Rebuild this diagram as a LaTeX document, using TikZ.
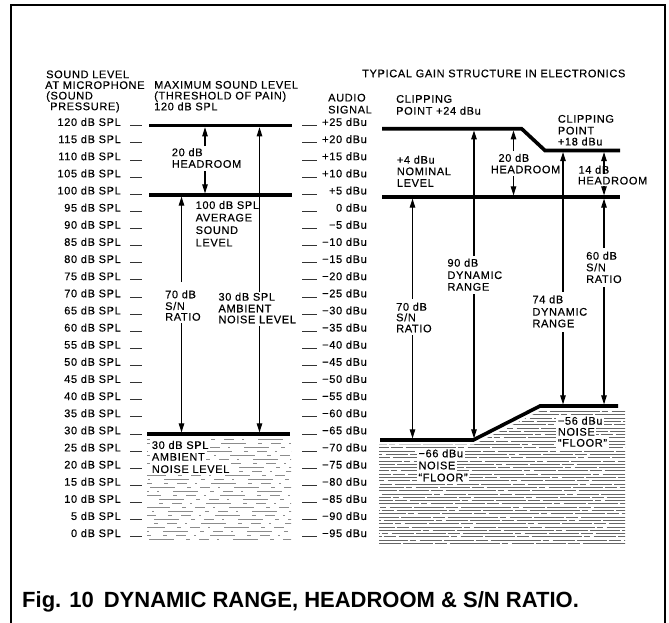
\documentclass[tikz,border=0pt]{standalone}
\usepackage{fontspec}
\setmainfont{Liberation Sans}[LetterSpace=6, FakeBold=0.4]
\newfontfamily\titlefont{Liberation Sans}
\usetikzlibrary{arrows.meta}
\newcommand\mylbl[5][]{\node[lab,#1] (#2) at (#3,#4) {#5};}
\tikzset{
  lab/.style={font=\fontsize{11}{12}\selectfont, inner sep=0pt, text height=7.9pt, text depth=0pt, anchor=west},
  wlab/.style={fill=white, inner xsep=1.5pt, inner ysep=1.6pt},
  thk/.style={line width=3.6pt},
  arr/.style={line width=1.1pt, shorten >=1.6pt, -{Triangle[length=9pt,width=5.5pt]}},
  tickmark/.style={line width=0.9pt, black!80},
  frame/.style={line width=1.3pt},
  hatchR/.style={line width=0.9pt, black!60, dash pattern=on 30pt off 1.5pt on 12pt off 3pt on 50pt off 2pt on 6pt off 4pt on 22pt off 2.5pt},
  hatchL/.style={line width=0.7pt, black!45, dash pattern=on 10pt off 8pt on 2pt off 14pt on 25pt off 12pt on 4pt off 9pt}
}
\begin{document}
\begin{tikzpicture}[x=1pt,y=-1pt]
\useasboundingbox (0,0) rectangle (669,623);
\draw[frame] (11,623) -- (11,5) -- (665,5) -- (665,623);

% scales
\foreach \i in {0,...,24}{
  \pgfmathsetmacro\yy{125.7+17.13*\i}
  \pgfmathtruncatemacro\splv{120-5*\i}
  \pgfmathtruncatemacro\dbv{25-5*\i}
  \node[lab, anchor=east] (spl\i) at (121,\yy-3.7) {\splv\ dB SPL};
  \draw[tickmark] (130,\yy) -- (142,\yy);
  \node[lab, anchor=east] (dbu\i) at (367,\yy-3.7) {\ifnum\dbv>0 +\dbv\else\ifnum\dbv<0 −\number\numexpr-\dbv\relax\else0\fi\fi\ dBu};
  \draw[tickmark] (302,\yy) -- (317,\yy);
}

% headers
\mylbl{hA1}{46}{74.2}{SOUND LEVEL}
\mylbl{hA2}{45}{85}{AT MICROPHONE}
\mylbl{hA3}{46}{95.5}{(SOUND}
\mylbl{hA4}{50}{106.2}{PRESSURE)}
\mylbl{hB1}{154}{84.7}{MAXIMUM SOUND LEVEL}
\mylbl{hB2}{154}{95.5}{(THRESHOLD OF PAIN)}
\mylbl{hB3}{154}{106.4}{120 dB SPL}
\mylbl{hC1}{328}{97.5}{AUDIO}
\mylbl{hC2}{328}{109.5}{SIGNAL}
\mylbl{hD}{362}{73.3}{TYPICAL GAIN STRUCTURE IN ELECTRONICS}

% ---------- left section ----------
\coordinate (m120w) at (149,125.7); \coordinate (m120e) at (292,125.7);
\coordinate (m100w) at (149,195);   \coordinate (m100e) at (292,195);
\coordinate (m30w) at (147,434);    \coordinate (m30e) at (290,434);

\begin{scope}
  \clip (147,438) rectangle (291,542);
  \foreach \k in {0,...,26}{
    \pgfmathsetmacro\ph{mod(\k*37,60)}
    \draw[hatchL, dash phase=\ph pt] (140,439+4*\k) -- (300,439+4*\k);
  }
\end{scope}

\draw[thk] (m120w) -- (m120e);
\draw[thk] (m100w) -- (m100e);
\draw[thk] (m30w) -- (m30e);

\mylbl{l20a}{171.7}{152.2}{20 dB}
\mylbl{l20b}{171.7}{163.8}{HEADROOM}
\mylbl{l100a}{195.5}{205}{100 dB SPL}
\mylbl{l100b}{195.5}{217.5}{AVERAGE}
\mylbl{l100c}{195.5}{230}{SOUND}
\mylbl{l100d}{195.5}{242.5}{LEVEL}
\mylbl{l70a}{165}{294.3}{70 dB}
\mylbl{l70b}{165}{306}{S/N}
\mylbl{l70c}{165}{316.7}{RATIO}
\mylbl{l30a}{218.3}{296.7}{30 dB SPL}
\mylbl{l30b}{218.3}{308.3}{AMBIENT}
\mylbl{l30c}{218.3}{319.3}{NOISE LEVEL}
\mylbl[wlab]{l30d}{150.2}{445}{30 dB SPL}
\mylbl[wlab]{l30e}{150.2}{456.7}{AMBIENT}
\mylbl[wlab]{l30f}{150.2}{469}{NOISE LEVEL}

\coordinate (hup) at (205,146);  \coordinate (hdn) at (205,171);
\coordinate (sA) at (181.5,282); \coordinate (sB) at (181.5,323);
\coordinate (aA) at (259.5,292); \coordinate (aB) at (259.5,326);
\draw[arr] (hup) -- (hup |- m120w);
\draw[arr] (hdn) -- (hdn |- m100w);
\draw[arr] (sA) -- (sA |- m100w);
\draw[arr] (sB) -- (sB |- m30w);
\draw[arr] (aA) -- (aA |- m120w);
\draw[arr] (aB) -- (aB |- m30w);

% ---------- right section ----------
\coordinate (c24a) at (382,128.8); \coordinate (c24b) at (521.7,128.8);
\coordinate (c18a) at (545,150.5); \coordinate (c18b) at (620,150.5);
\coordinate (n4a) at (382,197);    \coordinate (n4b) at (620,197);
\coordinate (f66a) at (380,440);   \coordinate (f66b) at (473.3,440);
\coordinate (f56a) at (540,406);   \coordinate (f56b) at (618,406);

\begin{scope}
  \clip (379,444.5) -- (474,444.5) -- (541,410.5) -- (625,410.5) -- (625,544) -- (379,544) -- cycle;
  \foreach \k in {0,...,40}{
    \pgfmathsetmacro\ph{mod(\k*41,110)}
    \draw[hatchR, dash phase=\ph pt] (370,411.5+3.3*\k) -- (630,411.5+3.3*\k);
  }
\end{scope}

\draw[thk, line join=miter] (c24a) -- (c24b) -- (c18a) -- (c18b);
\draw[thk] (n4a) -- (n4b);
\draw[thk, line join=miter] (f66a) -- (f66b) -- (f56a) -- (f56b);

\mylbl{r24a}{396}{98.8}{CLIPPING}
\mylbl{r24b}{396}{110.7}{POINT +24 dBu}
\mylbl{r18a}{557.7}{118.7}{CLIPPING}
\mylbl{r18b}{557.7}{130.5}{POINT}
\mylbl{r18c}{557.7}{141.5}{+18 dBu}
\mylbl{r4a}{396.7}{159.7}{+4 dBu}
\mylbl{r4b}{396.7}{171.2}{NOMINAL}
\mylbl{r4c}{396.7}{182.8}{LEVEL}
\mylbl{rh20a}{498.3}{157.8}{20 dB}
\mylbl{rh20b}{490.7}{169.3}{HEADROOM}
\mylbl{rh14a}{578.3}{169.7}{14 dB}
\mylbl{rh14b}{577.7}{180.5}{HEADROOM}
\mylbl{r70a}{396}{306.7}{70 dB}
\mylbl{r70b}{396}{317.3}{S/N}
\mylbl{r70c}{396}{328.3}{RATIO}
\mylbl{r90a}{447.3}{262.7}{90 dB}
\mylbl{r90b}{447.3}{275}{DYNAMIC}
\mylbl{r90c}{447.3}{286.7}{RANGE}
\mylbl{r74a}{532.3}{299.3}{74 dB}
\mylbl{r74b}{532.3}{311.7}{DYNAMIC}
\mylbl{r74c}{532.3}{323.3}{RANGE}
\mylbl{r60a}{586}{255.7}{60 dB}
\mylbl{r60b}{586}{267.3}{S/N}
\mylbl{r60c}{586}{279}{RATIO}
\mylbl[wlab]{r66a}{416.8}{453.3}{−66 dBu}
\mylbl[wlab]{r66b}{416.8}{465.3}{NOISE}
\mylbl[wlab]{r66c}{416.8}{477.3}{“FLOOR”}
\mylbl[wlab]{r56a}{556.2}{420.7}{−56 dBu}
\mylbl[wlab]{r56b}{556.2}{431.7}{NOISE}
\mylbl[wlab]{r56c}{556.2}{442.7}{“FLOOR”}

\coordinate (p70a) at (412.5,299); \coordinate (p70b) at (412.5,335);
\coordinate (p90a) at (474,256);   \coordinate (p90b) at (474,294);
\coordinate (p74a) at (563,292);   \coordinate (p74b) at (563,332);
\coordinate (p60a) at (604,248);   \coordinate (p60b) at (604,287);
\coordinate (q20a) at (513.5,151); \coordinate (q20b) at (513.5,176);
\coordinate (q14a) at (604,174);   \coordinate (q14b) at (604,186);
\draw[arr] (p70a) -- (p70a |- n4a);
\draw[arr] (p70b) -- (p70b |- f66a);
\draw[arr] (p90a) -- (p90a |- c24a);
\draw[arr] (p90b) -- (p90b |- f66a);
\draw[arr] (p74a) -- (p74a |- c18a);
\draw[arr] (p74b) -- (p74b |- f56a);
\draw[arr] (p60a) -- (p60a |- n4a);
\draw[arr] (p60b) -- (p60b |- f56a);
\draw[arr] (q20a) -- (q20a |- c24a);
\draw[arr] (q20b) -- (q20b |- n4a);
\draw[arr] (q14a) -- (q14a |- c18a);
\draw[arr] (q14b) -- (q14b |- n4a);

% title
\node[anchor=west, inner sep=0pt, text height=15.7pt, text depth=0pt,
      font=\titlefont\bfseries\fontsize{22}{24}\selectfont] (title) at (22,600)
  {Fig. 10\hspace{0.45em}DYNAMIC RANGE, HEADROOM \& S/N RATIO.};
\end{tikzpicture}
\end{document}
